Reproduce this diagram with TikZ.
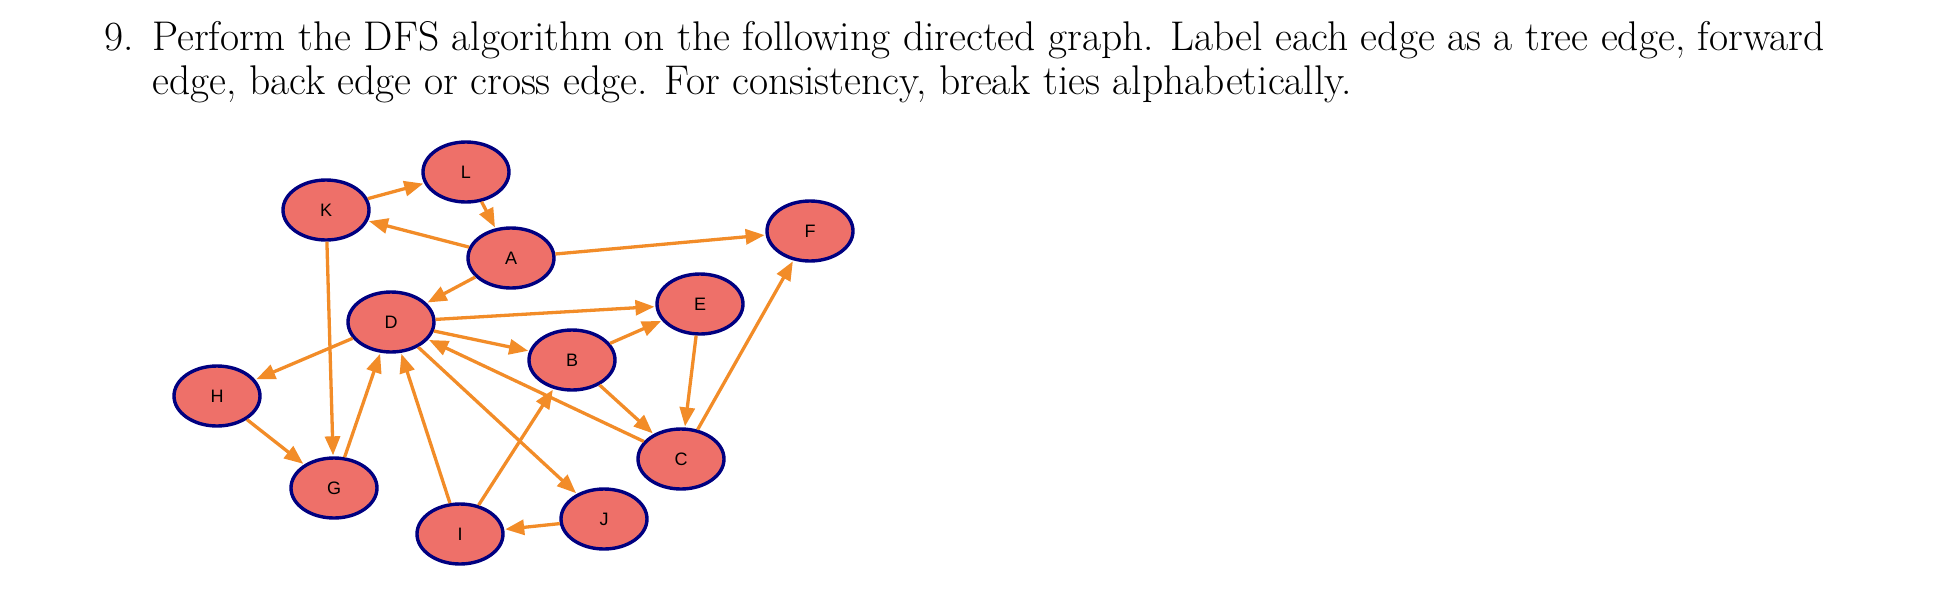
\documentclass[tikz,border=0pt]{standalone}
\usepackage{fontspec}
\newfontfamily\lab{Liberation Sans}
\usetikzlibrary{shapes.geometric,arrows.meta}
\definecolor{nfill}{HTML}{EE7069}
\definecolor{nborder}{HTML}{000080}
\definecolor{edge}{HTML}{F28C28}
\begin{document}
\begin{tikzpicture}[x=1pt,y=-1pt,
  vtx/.style={ellipse,draw=nborder,fill=nfill,line width=3.4pt,minimum width=86pt,minimum height=60pt,inner sep=0pt,font=\lab\fontsize{18}{18}\selectfont},
  arr/.style={draw=edge,line width=3.3pt,-{Triangle[length=19pt,width=15pt]},shorten >=1pt},
  txt/.style={anchor=base west,inner sep=0pt,font=\fontsize{41.5}{44}\selectfont}]
\useasboundingbox (0,0) rectangle (1960,600);
\node[txt] (num) at (104,50) {9.};
\node[txt] (l1) at (152,50) {Perform the DFS algorithm on the following directed graph. Label each edge as a tree edge, forward};
\node[txt] (l2) at (152,94) {edge, back edge or cross edge. For consistency, break ties alphabetically.};
\node[vtx] (K) at (326,210) {K};
\node[vtx] (L) at (466,172) {L};
\node[vtx] (A) at (511,258) {A};
\node[vtx] (F) at (810,231) {F};
\node[vtx] (D) at (391,322) {D};
\node[vtx] (E) at (700,304) {E};
\node[vtx] (B) at (572,360) {B};
\node[vtx] (H) at (217,396) {H};
\node[vtx] (C) at (681,459) {C};
\node[vtx] (G) at (334,488) {G};
\node[vtx] (J) at (604,519) {J};
\node[vtx] (I) at (460,534) {I};
\foreach \a/\b in {K/L,L/A,A/K,A/F,A/D,D/E,D/B,B/E,D/H,E/C,C/F,B/C,C/D,D/J,H/G,K/G,G/D,I/D,I/B,J/I}
  \draw[arr] (\a) -- (\b);
\end{tikzpicture}
\end{document}
